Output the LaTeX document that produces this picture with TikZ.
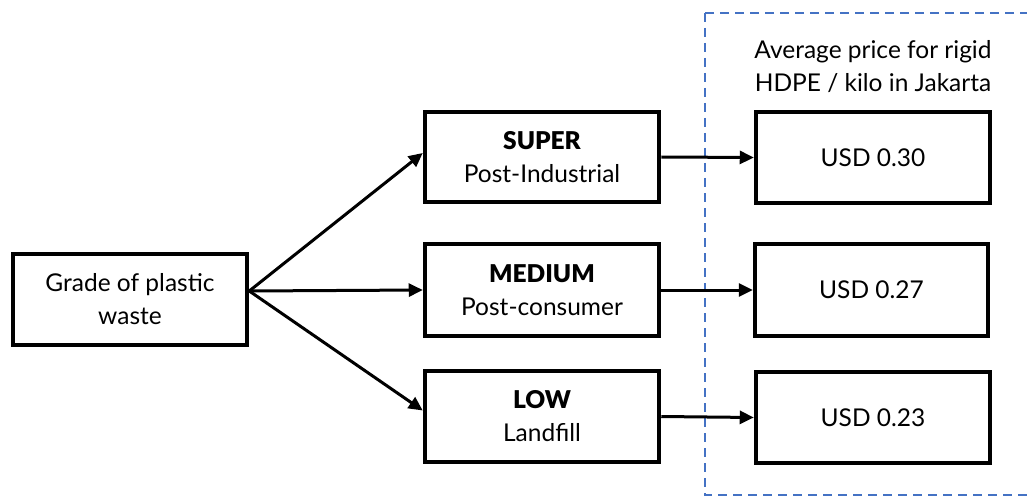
\documentclass[tikz,border=0pt]{standalone}
\usepackage{fontspec}
\setmainfont{Lato}
\newfontfamily\heavyfont{Lato Black}
\usetikzlibrary{arrows.meta}
\definecolor{dashblue}{RGB}{68,114,196}
\begin{document}
\begin{tikzpicture}[x=1pt,y=-1pt,
  font=\fontsize{24.5}{33}\selectfont,
  box/.style={draw, line width=4.5pt, rectangle, align=center, inner sep=0pt,
    minimum width=234pt, minimum height=91pt},
  arr/.style={line width=3pt, -{Triangle[length=14pt,width=13pt]}},
  dashbox/.style={draw=dashblue, line width=2.8pt, dash pattern=on 9pt off 6pt}]
\useasboundingbox (0,0) rectangle (1027,497);
\fill[white] (0,0) rectangle (1027,497);
\draw[dashbox] (705,13) rectangle (1045,495);
\node[align=center] (head) at (873,67) {Average price for rigid\\HDPE / kilo in Jakarta};
\node[box] (lt) at (130,299.5) {Grade of plastic\\waste};
\node[box, minimum height=90pt] (super) at (542,157) {{\heavyfont SUPER}\\Post-Industrial};
\node[box, minimum height=92pt] (medium) at (542,290) {{\heavyfont MEDIUM}\\Post-consumer};
\node[box] (low) at (542,416.5) {{\heavyfont LOW}\\Landfill};
\node[box] (r1) at (873,157.5) {USD 0.30};
\node[box, minimum width=233pt, minimum height=92pt] (r2) at (871.5,290) {USD 0.27};
\node[box] (r3) at (873,417.5) {USD 0.23};
\coordinate (src) at ([yshift=8.5pt]lt.east);
\draw[arr] (src) -- ([yshift=4pt]super.west);
\draw[arr] (src) -- (medium.west);
\draw[arr] (src) -- ([yshift=6pt]low.west);
\draw[arr] (super.east) -- (r1.west);
\draw[arr] (medium.east) -- (r2.west);
\draw[arr] (low.east) -- (r3.west);
\end{tikzpicture}
\end{document}
